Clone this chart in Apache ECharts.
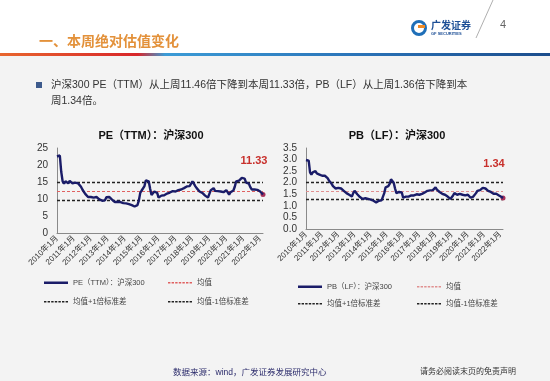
<!DOCTYPE html>
<html><head><meta charset="utf-8">
<script src="https://cdn.jsdelivr.net/npm/echarts@6/dist/echarts.min.js"></script>
<style>html,body{margin:0;padding:0;background:#f3f3f3}#c{width:550px;height:381px}</style>
</head><body><div id="c"></div>
<script>
// ---- data ----
const months = [];
for (let y = 2010; y <= 2022; y++) { for (let m = 1; m <= 12; m++) { if (y === 2022 && m > 3) break; months.push(y + '年' + m + '月'); } }
const pe = [
 22.5,23,22.8,18,15.2,14.5,15.2,14.8,14.6,15.3,14.8,14.6,
 15,14.8,15,14.6,14.2,13.6,12.8,12.4,11.5,11.2,10.6,10.3,
 10.6,10.8,10.4,10.9,10.6,10.2,9.9,9.6,9.5,9.8,9.6,10.5,
 10.9,10.6,10.2,9.8,9.6,9.1,9.0,9.2,9.3,9.1,9.0,8.8,
 8.5,8.7,8.4,8.5,8.3,8.2,8.0,7.8,7.9,8.2,9.5,11.8,
 12.5,13.0,13.8,15.5,15.7,15.2,13.0,11.2,11.0,12.2,12.5,11.8,
 10.4,10.5,11.0,11.2,11.1,11.4,11.6,11.8,11.9,12.0,12.3,12.1,
 12.2,12.4,12.6,12.5,12.8,13.0,13.2,13.6,13.7,14.0,13.8,14.2,
 15.2,14.5,13.8,13.2,12.8,12.2,12.0,11.8,11.4,11.0,10.8,10.4,
 11.5,12.6,13.0,13.2,12.4,12.5,12.3,12.0,12.2,12.1,12.0,12.4,
 12.6,12.2,11.3,12.0,12.1,12.5,13.6,15.2,14.9,15.4,15.8,16.2,
 16.5,16.0,14.8,14.3,14.5,13.5,12.8,12.7,12.8,12.9,12.7,12.6,
 12.2,11.8,11.33];
const pb = [
 2.98,3.02,2.95,2.45,2.35,2.45,2.4,2.5,2.4,2.45,2.35,2.3,
 2.3,2.28,2.3,2.25,2.2,2.1,2.15,1.95,1.85,1.8,1.75,1.75,
 1.78,1.82,1.75,1.68,1.65,1.6,1.55,1.5,1.48,1.42,1.4,1.55,
 1.65,1.6,1.5,1.42,1.38,1.32,1.3,1.35,1.33,1.32,1.3,1.28,
 1.27,1.25,1.22,1.2,1.15,1.2,1.22,1.25,1.24,1.3,1.55,1.8,
 1.8,1.85,1.95,2.15,2.1,2.0,1.75,1.55,1.55,1.6,1.62,1.58,
 1.35,1.38,1.4,1.42,1.4,1.42,1.45,1.47,1.45,1.48,1.5,1.5,
 1.48,1.5,1.52,1.55,1.58,1.62,1.65,1.65,1.67,1.7,1.68,1.72,
 1.8,1.7,1.65,1.6,1.55,1.52,1.5,1.48,1.45,1.4,1.35,1.3,
 1.32,1.45,1.55,1.52,1.48,1.5,1.52,1.5,1.48,1.5,1.45,1.5,
 1.48,1.45,1.35,1.38,1.4,1.45,1.55,1.65,1.62,1.68,1.7,1.78,
 1.8,1.75,1.68,1.65,1.67,1.6,1.55,1.52,1.5,1.52,1.48,1.45,
 1.42,1.38,1.34];
const peStats = [12.3, 14.9, 9.7];   // mean, +1sd, -1sd
const pbStats = [1.64, 2.02, 1.29];
const peTicks = [0, 25, 5];
const pbTicks = [0, 3.5, 0.5];
const names = {
  pe: 'PE（TTM）：沪深300', pb: 'PB（LF）：沪深300',
  mean: '均值', up: '均值+1倍标准差', dn: '均值-1倍标准差'
};

const FONT = "'Liberation Sans','Noto Sans CJK SC',sans-serif";
const chart = echarts.init(document.getElementById('c'), null, {renderer: 'canvas'});

let dashPath = 'path://';
for (let k = 0; k < 7; k++) dashPath += 'M' + (k * 3.6) + ',0h2.4v1.6h-2.4z';

function xAxis(gi) {
  return {
    type: 'category', gridIndex: gi, data: months, boundaryGap: false,
    axisLine: {lineStyle: {color: '#8a8a8a', width: 1}},
    axisTick: {show: false},
    axisLabel: {interval: (i) => i % 12 === 0, rotate: 45, fontSize: 8, color: '#333',
      fontFamily: FONT, margin: 4, formatter: (v) => v}
  };
}
function yAxis(gi, t, dec) {
  return {
    type: 'value', gridIndex: gi, min: t[0], max: t[1], interval: t[2],
    splitLine: {show: false},
    axisLine: {show: true, lineStyle: {color: '#8a8a8a'}},
    axisTick: {show: false},
    axisLabel: {fontSize: 10, color: '#333', fontFamily: FONT, margin: 9,
      formatter: (v) => dec ? v.toFixed(1) : String(v)}
  };
}
function mainSeries(name, data, gi, lab) {
  const last = data.length - 1;
  return {
    name: name, type: 'line', xAxisIndex: gi, yAxisIndex: gi, data: data,
    symbol: 'none', lineStyle: {color: '#1a1c68', width: 2.4}, itemStyle: {color: '#1a1c68'},
    z: 5,
    markPoint: {
      symbol: 'circle', symbolSize: 5, silent: true,
      itemStyle: {color: '#a8325a'},
      label: {show: true, formatter: (p) => lab(p.value), color: '#c8302c', fontSize: 11,
        fontWeight: 'bold', fontFamily: FONT, offset: [-9, -34]},
      data: [{coord: [last, data[last]], value: data[last]}]
    }
  };
}
function refSeries(name, val, gi, color, width) {
  return {
    name: name, type: 'line', xAxisIndex: gi, yAxisIndex: gi, data: [],
    symbol: 'none', lineStyle: {color: color, width: width, type: [3, 2]}, itemStyle: {color: color},
    markLine: {symbol: ['none', 'none'], silent: true, label: {show: false},
      lineStyle: {color: color, width: width, type: [3, 2]},
      data: [{yAxis: val}]}
  };
}
function legend(name, left, top, main) {
  return {data: [{name: name, icon: main ? 'rect' : dashPath}], left: left, top: top, padding: 0,
    itemWidth: 24, itemHeight: main ? 2.5 : 1.6,
    textStyle: {fontSize: 7.5, color: '#444', fontFamily: FONT}, selectedMode: false};
}

const grad = new echarts.graphic.LinearGradient(0, 0, 1, 0, [
  {offset: 0, color: '#e8662e'}, {offset: 0.25, color: '#d8262a'},
  {offset: 0.3, color: '#3b9bd6'}, {offset: 0.65, color: '#2a73b8'}, {offset: 1, color: '#1c4d8c'}
]);

const option = {
  backgroundColor: '#f3f3f3',
  animation: false,
  graphic: [
    {type: 'rect', shape: {x: 0, y: 0, width: 550, height: 53}, style: {fill: '#ffffff'}, silent: true},
    {type: 'rect', shape: {x: 0, y: 53, width: 550, height: 3}, style: {fill: grad}, silent: true},
    {type: 'text', x: 39, y: 41, style: {text: '一、本周绝对估值变化', fill: '#e3913a', fontSize: 14,
      fontWeight: 'bold', fontFamily: "'Noto Sans CJK SC'", textVerticalAlign: 'middle'}},
    {type: 'circle', shape: {cx: 419, cy: 28, r: 6.5}, style: {fill: 'none', stroke: '#1f6fb8', lineWidth: 3}},
    {type: 'rect', shape: {x: 418, y: 25, width: 7, height: 3}, style: {fill: '#f08a24'}},
    {type: 'text', x: 431, y: 25, style: {text: '广发证券', fill: '#1d4f96', fontSize: 10, fontWeight: 'bold',
      fontFamily: "'Noto Sans CJK SC'", textVerticalAlign: 'middle'}},
    {type: 'text', x: 431, y: 33.5, style: {text: 'GF SECURITIES', fill: '#1d4f96', fontSize: 4, fontWeight: 'bold',
      fontFamily: FONT, textVerticalAlign: 'middle'}},
    {type: 'line', shape: {x1: 476, y1: 38, x2: 493, y2: 0}, style: {stroke: '#9a9a9a', lineWidth: 0.8}},
    {type: 'text', x: 500, y: 25, style: {text: '4', fill: '#666', fontSize: 11, fontFamily: FONT, textVerticalAlign: 'middle'}},
    {type: 'rect', shape: {x: 36, y: 82, width: 6, height: 6}, style: {fill: '#3d5a8c'}},
    {type: 'text', x: 51, y: 85, style: {text: '沪深300 PE（TTM）从上周11.46倍下降到本周11.33倍，PB（LF）从上周1.36倍下降到本',
      fill: '#333', fontSize: 10.5, fontFamily: FONT, textVerticalAlign: 'middle'}},
    {type: 'text', x: 51, y: 101, style: {text: '周1.34倍。', fill: '#333', fontSize: 10.5, fontFamily: FONT, textVerticalAlign: 'middle'}},
    {type: 'text', x: 151, y: 136, style: {text: names.pe, fill: '#111', fontSize: 11, fontWeight: 'bold',
      fontFamily: FONT, textAlign: 'center', textVerticalAlign: 'middle'}},
    {type: 'text', x: 397, y: 136, style: {text: names.pb, fill: '#111', fontSize: 11, fontWeight: 'bold',
      fontFamily: FONT, textAlign: 'center', textVerticalAlign: 'middle'}},
    {type: 'text', x: 173, y: 373, style: {text: '数据来源：wind，广发证券发展研究中心', fill: '#2b2b6b', fontSize: 8.5,
      fontFamily: FONT, textVerticalAlign: 'middle'}},
    {type: 'text', x: 420, y: 372, style: {text: '请务必阅读末页的免责声明', fill: '#333', fontSize: 8,
      fontFamily: FONT, textVerticalAlign: 'middle'}}
  ],
  grid: [
    {left: 57, top: 148, width: 206, height: 85},
    {left: 306, top: 148, width: 197, height: 81}
  ],
  xAxis: [xAxis(0), xAxis(1)],
  yAxis: [yAxis(0, peTicks, false), yAxis(1, pbTicks, true)],
  legend: [
    legend(names.pe, 44, 279, true), legend(names.mean, 168, 279),
    legend(names.up, 44, 298), legend(names.dn, 168, 298),
    legend(names.pb, 298, 283, true), legend(names.mean + ' ', 417, 283),
    legend(names.up + ' ', 298, 300), legend(names.dn + ' ', 417, 300)
  ],
  series: [
    mainSeries(names.pe, pe, 0, (v) => v.toFixed(2)),
    refSeries(names.mean, peStats[0], 0, '#e06060', 1),
    refSeries(names.up, peStats[1], 0, '#222', 1.4),
    refSeries(names.dn, peStats[2], 0, '#222', 1.4),
    mainSeries(names.pb, pb, 1, (v) => v.toFixed(2)),
    refSeries(names.mean + ' ', pbStats[0], 1, '#e09090', 1),
    refSeries(names.up + ' ', pbStats[1], 1, '#222', 1.4),
    refSeries(names.dn + ' ', pbStats[2], 1, '#222', 1.4)
  ]
};
chart.setOption(option);
</script></body></html>
